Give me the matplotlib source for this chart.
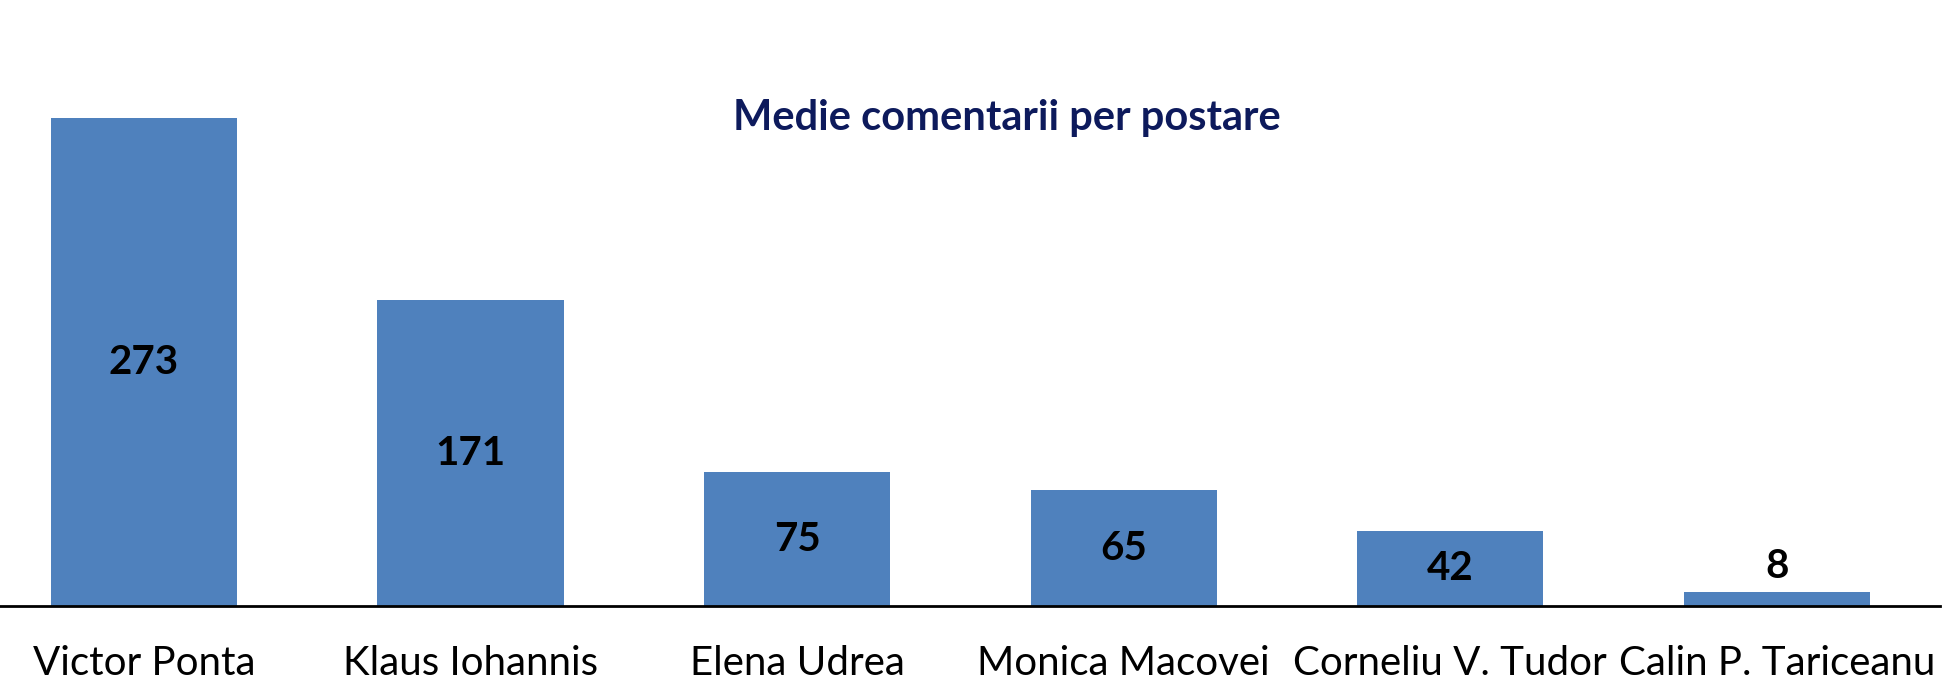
import matplotlib
matplotlib.use("Agg")
import matplotlib.pyplot as plt

# average comments per post
names = ["Victor Ponta", "Klaus Iohannis", "Elena Udrea", "Monica Macovei",
         "Corneliu V. Tudor", "Calin P. Tariceanu"]
values = [273, 171, 75, 65, 42, 8]
title = "Medie comentarii per postare"

plt.rcParams['font.family'] = ['Lato', 'DejaVu Sans']

fig = plt.figure(figsize=(19.5, 7), dpi=100)
ax = fig.add_axes([0, 0.134, 1940 / 1950, 0.866])

x = range(len(names))
bars = ax.bar(x, values, width=0.57, color='#4F81BD')

ax.set_xlim(-0.441, 5.50)
ax.set_ylim(0, 339)

# labels inside the bar, or above it when the bar is too short
for i, v in enumerate(values):
    if v > 30:
        ax.text(i, v / 2, str(v), ha='center', va='center',
                fontsize=29, fontweight='bold', color='black')
    else:
        ax.annotate(str(v), (i, v), xytext=(0, 18), textcoords='offset points',
                    ha='center', va='center', fontsize=29, fontweight='bold',
                    color='black')

ax.set_xticks(list(x))
ax.set_xticklabels(names, fontsize=29, color='black')
ax.tick_params(axis='x', length=0, pad=28)
ax.set_yticks([])

for s in ['top', 'right', 'left']:
    ax.spines[s].set_visible(False)
ax.spines['bottom'].set_linewidth(2)
ax.spines['bottom'].set_color('black')

fig.text(1007 / 1950, 1 - 118 / 700, title, ha='center', va='center',
         fontsize=30, fontweight='bold', color='#0D1A5C')

fig.savefig("out.png", dpi=100)
